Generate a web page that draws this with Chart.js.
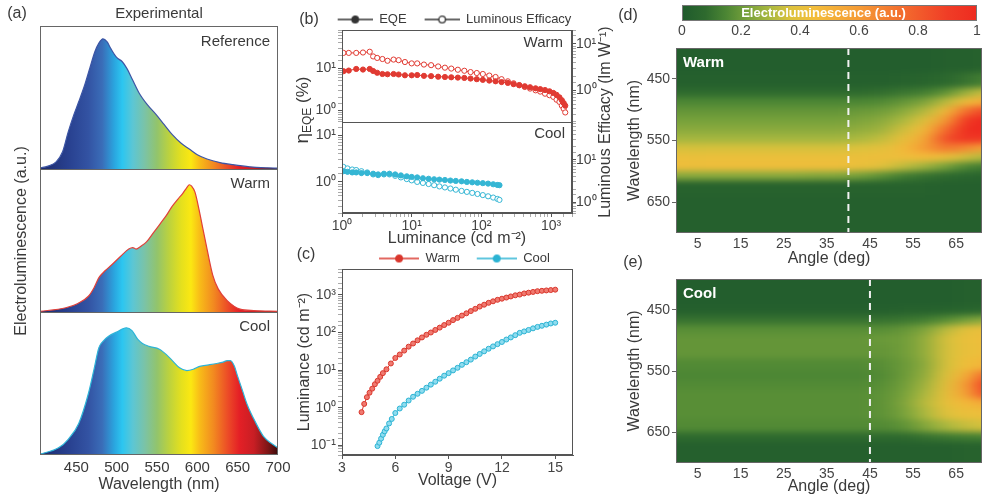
<!DOCTYPE html>
<html>
<head>
<meta charset="utf-8">
<script src="https://cdn.jsdelivr.net/npm/chart.js@4.4.1/dist/chart.umd.min.js"></script>
<style>
  html, body { margin: 0; padding: 0; background: #fff; }
  #wrap { position: relative; width: 983px; height: 497px; overflow: hidden; background: #fff; }
  canvas { position: absolute; }
</style>
</head>
<body>
<div id="wrap">
  <canvas id="cA" width="290" height="497" style="left:0;top:0"></canvas>
  <canvas id="cB" width="330" height="250" style="left:290px;top:0"></canvas>
  <canvas id="cC" width="322" height="257" style="left:290px;top:240px"></canvas>
  <canvas id="cBar" width="371" height="40" style="left:612px;top:0"></canvas>
  <canvas id="cD" width="371" height="230" style="left:612px;top:40px"></canvas>
  <canvas id="cE" width="371" height="247" style="left:612px;top:250px"></canvas>
</div>
<script>
// ---- (a) EL spectra, normalised to the height of each sub panel
const wlTicks = [450, 500, 550, 600, 650, 700];
const refWl = [403, 415, 425, 433, 440, 447, 453, 460, 467, 473, 478, 483, 488, 493, 500, 507, 513, 520, 528, 538, 549, 559, 569, 580, 590, 600, 612, 628, 644, 665, 687, 700];
const refEl = [0.005, 0.02, 0.05, 0.12, 0.26, 0.38, 0.47, 0.58, 0.71, 0.82, 0.88, 0.91, 0.89, 0.84, 0.78, 0.75, 0.70, 0.62, 0.53, 0.45, 0.38, 0.31, 0.24, 0.18, 0.14, 0.10, 0.07, 0.045, 0.03, 0.015, 0.008, 0.006];
const warmWl = [403, 437, 452, 465, 472, 478, 486, 494, 505, 515, 520, 524, 530, 537, 545, 553, 561, 569, 576, 582, 587, 590, 593, 597, 602, 607, 611, 619, 626, 637, 653, 670, 700];
const warmEl = [0.003, 0.03, 0.06, 0.11, 0.17, 0.24, 0.29, 0.33, 0.39, 0.44, 0.45, 0.44, 0.46, 0.49, 0.55, 0.61, 0.67, 0.74, 0.79, 0.83, 0.87, 0.89, 0.88, 0.84, 0.72, 0.58, 0.47, 0.26, 0.16, 0.08, 0.02, 0.01, 0.005];
const coolWl = [403, 428, 440, 453, 465, 472, 478, 484, 490, 500, 512, 519, 526, 532, 540, 553, 562, 569, 578, 587, 595, 603, 614, 624, 632, 637, 641, 646, 650, 656, 662, 672, 682, 692, 700];
const coolEl = [0.003, 0.05, 0.11, 0.22, 0.43, 0.6, 0.75, 0.8, 0.83, 0.86, 0.89, 0.87, 0.81, 0.78, 0.76, 0.74, 0.7, 0.66, 0.61, 0.59, 0.6, 0.62, 0.63, 0.64, 0.65, 0.66, 0.66, 0.62, 0.55, 0.45, 0.35, 0.23, 0.13, 0.08, 0.05];

// ---- (b) efficiency vs luminance
const bWarmL = [1.05, 1.25, 1.6, 2.0, 2.5, 2.8, 3.2, 3.8, 4.5, 5.5, 6.5, 8, 10, 12, 15, 19, 24, 30, 37, 46, 57, 70, 86, 105, 130, 160, 195, 240, 290, 350, 420, 500, 600, 700, 820, 950, 1080, 1200, 1320, 1430, 1520, 1600];
const bWarmEqe = [8.5, 8.8, 9.6, 9.3, 9.6, 8.6, 7.8, 7.3, 7.2, 7.3, 7.1, 6.8, 6.8, 6.9, 6.6, 6.5, 6.3, 6.2, 6.1, 6.0, 5.9, 5.7, 5.5, 5.3, 5.1, 4.9, 4.7, 4.5, 4.2, 3.95, 3.75, 3.55, 3.35, 3.2, 3.05, 2.85, 2.6, 2.35, 2.05, 1.75, 1.5, 1.3];
const bWarmLe = [23, 23, 23, 23.5, 24.5, 19, 17.5, 16.5, 15, 16, 15.5, 14, 13, 13, 12.2, 11.8, 11, 10.3, 9.8, 9.2, 8.7, 8.1, 7.7, 7.3, 6.7, 6.2, 5.5, 4.9, 4.4, 4.0, 3.6, 3.3, 3.0, 2.8, 2.5, 2.3, 2.1, 1.8, 1.6, 1.3, 1.1, 0.9];
const bCoolL = [1.05, 1.2, 1.4, 1.6, 1.9, 2.3, 2.8, 3.3, 4, 4.8, 5.8, 7, 8.5, 10, 12, 14.5, 17.5, 21, 25, 30, 36, 43, 52, 62, 74, 88, 105, 125, 148, 170, 182];
const bCoolEqe = [1.7, 1.65, 1.6, 1.6, 1.55, 1.55, 1.5, 1.45, 1.5, 1.5, 1.45, 1.38, 1.32, 1.28, 1.25, 1.2, 1.17, 1.14, 1.12, 1.1, 1.07, 1.05, 1.03, 1.0, 0.98, 0.96, 0.94, 0.92, 0.89, 0.86, 0.85];
const bCoolLe = [2.1, 1.95, 1.85, 1.8, 1.7, 1.6, 1.45, 1.4, 1.45, 1.45, 1.35, 1.25, 1.15, 1.08, 1.0, 0.95, 0.9, 0.85, 0.8, 0.76, 0.72, 0.68, 0.64, 0.61, 0.58, 0.55, 0.52, 0.49, 0.46, 0.43, 0.41];

// ---- (c) luminance vs voltage
const vTicks = [3, 6, 9, 12, 15];
const warmV = [4.1, 4.25, 4.4, 4.55, 4.7, 4.85, 5.0, 5.15, 5.3, 5.5, 5.75, 6.0, 6.25, 6.5, 6.75, 7.0, 7.25, 7.5, 7.75, 8.0, 8.25, 8.5, 8.75, 9.0, 9.25, 9.5, 9.75, 10.0, 10.25, 10.5, 10.75, 11.0, 11.25, 11.5, 11.75, 12.0, 12.25, 12.5, 12.75, 13.0, 13.25, 13.5, 13.75, 14.0, 14.25, 14.5, 14.75, 15.0];
const warmLum = [0.76, 1.26, 1.9, 2.5, 3.2, 4.2, 5.2, 6.6, 8.3, 10.5, 15, 21, 26, 33, 42, 51, 62, 74, 87, 100, 117, 135, 158, 182, 214, 245, 282, 324, 372, 427, 490, 550, 617, 676, 741, 794, 851, 912, 977, 1023, 1096, 1148, 1202, 1259, 1288, 1318, 1349, 1380];
const coolV = [5.0, 5.1, 5.2, 5.3, 5.4, 5.5, 5.65, 5.8, 6.0, 6.25, 6.5, 6.75, 7.0, 7.25, 7.5, 7.75, 8.0, 8.25, 8.5, 8.75, 9.0, 9.25, 9.5, 9.75, 10.0, 10.25, 10.5, 10.75, 11.0, 11.25, 11.5, 11.75, 12.0, 12.25, 12.5, 12.75, 13.0, 13.25, 13.5, 13.75, 14.0, 14.25, 14.5, 14.75, 15.0];
const coolLum = [0.095, 0.117, 0.15, 0.19, 0.234, 0.28, 0.38, 0.5, 0.72, 0.95, 1.2, 1.55, 1.95, 2.34, 2.8, 3.4, 4.1, 4.9, 5.9, 7.1, 8.3, 9.8, 11.5, 13.8, 16.2, 19, 22.9, 26.9, 31.6, 37, 42.7, 49, 56, 65, 74, 85, 98, 107, 117, 129, 141, 151, 162, 174, 182];

// ---- (d)/(e) angle resolved EL maps: one column of values per angle, one value per wavelength band
const angleTicks = [5, 15, 25, 35, 45, 55, 65];
const nmTicks = [450, 550, 650];
const barTicks = [0, 0.2, 0.4, 0.6, 0.8, 1];
const mapAngles = [2.5, 7.5, 12.5, 17.5, 22.5, 27.5, 32.5, 37.5, 42.5, 47.5, 52.5, 57.5, 62.5, 67.5, 72.5];
const warmBands = [400, 440, 465, 480, 495, 510, 525, 540, 555, 570, 585, 600, 615, 640, 700];
const warmMap = [
  [0.02, 0.03, 0.08, 0.15, 0.19, 0.22, 0.25, 0.29, 0.36, 0.42, 0.43, 0.25, 0.04, 0.03],
  [0.02, 0.03, 0.08, 0.15, 0.19, 0.22, 0.25, 0.29, 0.36, 0.42, 0.43, 0.25, 0.04, 0.03],
  [0.02, 0.03, 0.08, 0.15, 0.19, 0.22, 0.25, 0.29, 0.36, 0.42, 0.43, 0.25, 0.04, 0.03],
  [0.02, 0.03, 0.08, 0.15, 0.19, 0.22, 0.25, 0.29, 0.36, 0.42, 0.43, 0.25, 0.04, 0.03],
  [0.02, 0.03, 0.08, 0.15, 0.19, 0.22, 0.25, 0.29, 0.36, 0.42, 0.43, 0.25, 0.04, 0.03],
  [0.02, 0.03, 0.08, 0.15, 0.19, 0.22, 0.25, 0.29, 0.36, 0.42, 0.43, 0.25, 0.04, 0.03],
  [0.02, 0.03, 0.08, 0.15, 0.19, 0.22, 0.25, 0.29, 0.36, 0.42, 0.43, 0.24, 0.04, 0.03],
  [0.02, 0.03, 0.08, 0.15, 0.19, 0.22, 0.25, 0.29, 0.36, 0.42, 0.43, 0.24, 0.04, 0.03],
  [0.02, 0.03, 0.08, 0.15, 0.20, 0.23, 0.26, 0.30, 0.37, 0.42, 0.42, 0.22, 0.04, 0.03],
  [0.02, 0.03, 0.09, 0.16, 0.21, 0.25, 0.28, 0.33, 0.39, 0.43, 0.39, 0.18, 0.04, 0.03],
  [0.02, 0.04, 0.11, 0.19, 0.25, 0.30, 0.35, 0.41, 0.46, 0.43, 0.33, 0.13, 0.04, 0.03],
  [0.02, 0.05, 0.13, 0.23, 0.31, 0.38, 0.46, 0.54, 0.60, 0.46, 0.28, 0.10, 0.04, 0.03],
  [0.03, 0.07, 0.18, 0.32, 0.45, 0.60, 0.75, 0.85, 0.72, 0.42, 0.22, 0.08, 0.03, 0.03],
  [0.03, 0.10, 0.28, 0.45, 0.75, 0.95, 1.00, 0.95, 0.65, 0.35, 0.15, 0.06, 0.03, 0.03],
  [0.04, 0.14, 0.35, 0.55, 0.88, 1.00, 1.00, 0.92, 0.55, 0.30, 0.12, 0.05, 0.03, 0.03]
];
const coolBands = [400, 445, 460, 475, 490, 510, 530, 550, 565, 580, 595, 610, 630, 650, 665, 700];
const coolMap = [
  [0.02, 0.03, 0.10, 0.17, 0.19, 0.19, 0.16, 0.15, 0.16, 0.17, 0.17, 0.17, 0.16, 0.08, 0.03],
  [0.02, 0.03, 0.10, 0.17, 0.19, 0.19, 0.16, 0.15, 0.16, 0.17, 0.17, 0.17, 0.16, 0.08, 0.03],
  [0.02, 0.03, 0.10, 0.17, 0.19, 0.19, 0.16, 0.15, 0.16, 0.17, 0.17, 0.17, 0.16, 0.08, 0.03],
  [0.02, 0.03, 0.10, 0.17, 0.19, 0.19, 0.16, 0.15, 0.16, 0.17, 0.17, 0.17, 0.16, 0.08, 0.03],
  [0.02, 0.03, 0.10, 0.17, 0.19, 0.19, 0.16, 0.15, 0.16, 0.17, 0.17, 0.17, 0.16, 0.08, 0.03],
  [0.02, 0.03, 0.10, 0.17, 0.19, 0.19, 0.16, 0.15, 0.16, 0.17, 0.17, 0.17, 0.16, 0.08, 0.03],
  [0.02, 0.03, 0.10, 0.17, 0.19, 0.19, 0.16, 0.15, 0.16, 0.17, 0.17, 0.17, 0.16, 0.08, 0.03],
  [0.02, 0.03, 0.10, 0.17, 0.19, 0.19, 0.16, 0.15, 0.16, 0.17, 0.17, 0.17, 0.16, 0.08, 0.03],
  [0.02, 0.03, 0.10, 0.17, 0.19, 0.19, 0.16, 0.15, 0.16, 0.17, 0.17, 0.17, 0.16, 0.08, 0.03],
  [0.02, 0.03, 0.10, 0.17, 0.20, 0.19, 0.17, 0.16, 0.17, 0.18, 0.18, 0.18, 0.16, 0.08, 0.03],
  [0.02, 0.04, 0.11, 0.19, 0.21, 0.21, 0.20, 0.20, 0.21, 0.22, 0.23, 0.22, 0.18, 0.08, 0.03],
  [0.02, 0.04, 0.13, 0.23, 0.26, 0.26, 0.25, 0.26, 0.28, 0.30, 0.32, 0.30, 0.24, 0.10, 0.03],
  [0.02, 0.05, 0.17, 0.32, 0.36, 0.36, 0.36, 0.37, 0.39, 0.41, 0.41, 0.38, 0.30, 0.12, 0.03],
  [0.03, 0.06, 0.22, 0.40, 0.42, 0.42, 0.44, 0.52, 0.60, 0.58, 0.47, 0.42, 0.34, 0.13, 0.04],
  [0.03, 0.07, 0.26, 0.42, 0.43, 0.43, 0.50, 0.80, 0.95, 0.88, 0.55, 0.43, 0.36, 0.14, 0.04]
];
const warmCut = 40;
const coolCut = 45;

// ---- colours
const specStops = [[405, '#1c2a6c'], [440, '#28408f'], [465, '#3353a3'], [482, '#3a6db8'], [497, '#2aa5df'], [507, '#2cc6f0'], [520, '#5cc6d4'], [535, '#7bc3a6'], [550, '#92c46c'], [565, '#bcd23e'], [580, '#e4e01e'], [592, '#fbe812'], [603, '#f8bc18'], [620, '#f28a20'], [638, '#ec4b27'], [652, '#e42026'], [670, '#c81e24'], [688, '#7c1616'], [700, '#3a0b0b']];
const elStops = [[0, '#1f5a2c'], [0.08, '#2e6a2e'], [0.15, '#4c8634'], [0.22, '#76a13b'], [0.3, '#abb93f'], [0.37, '#ddc23c'], [0.45, '#f3bd3a'], [0.6, '#f59b35'], [0.75, '#f36b2e'], [0.9, '#f03d26'], [1, '#ee2b20']];
const RED = '#e03a32', CYAN = '#35b6d4';
const FONT = "'Liberation Sans', Arial, sans-serif";

Chart.defaults.font.family = FONT;
Chart.defaults.font.size = 14;
Chart.defaults.color = '#3a3a3a';

const pts = (xs, ys) => xs.map((x, i) => ({x, y: ys[i]}));
const hex = h => [1, 3, 5].map(i => parseInt(h.slice(i, i + 2), 16));
function cmap(v) {
  v = Math.max(0, Math.min(1, v));
  for (let i = 1; i < elStops.length; i++) {
    if (v <= elStops[i][0]) {
      const a = hex(elStops[i - 1][1]), b = hex(elStops[i][1]);
      const t = (v - elStops[i - 1][0]) / (elStops[i][0] - elStops[i - 1][0]);
      return 'rgb(' + a.map((x, k) => Math.round(x + (b[k] - x) * t)).join(',') + ')';
    }
  }
  return elStops[elStops.length - 1][1];
}
const SUP = {'0': '⁰', '1': '¹', '2': '²', '3': '³', '4': '⁴', '5': '⁵', '-': '⁻'};
const isDecade = v => Math.abs(Math.log10(v) - Math.round(Math.log10(v))) < 1e-6;
const decade = v => isDecade(v) ? '10' + String(Math.round(Math.log10(v))).split('').map(c => SUP[c]).join('') : '';
const tickCol = c => (c.tick && isDecade(c.tick.value)) ? '#555' : '#aaa';
const fixW = w => s => { s.width = w; s.paddingTop = 0; s.paddingBottom = 0; };
const fixH = h => s => { s.height = h; s.paddingLeft = 0; s.paddingRight = 0; };
const setTicks = arr => s => { s.ticks = arr.map(v => ({value: v})); };
const noGrid = {display: false, drawTicks: false};

// frame round the plot area, with optional dividers between stacked axes
function frame(splits, color) {
  return {
    id: 'frame',
    afterDatasetsDraw(chart) {
      const {ctx, chartArea: a} = chart;
      ctx.save();
      ctx.strokeStyle = color;
      ctx.lineWidth = 1;
      ctx.strokeRect(a.left + 0.5, a.top + 0.5, a.width - 1, a.height - 1);
      splits.forEach(id => {
        const y = Math.round(chart.scales[id].top) + 0.5;
        ctx.beginPath(); ctx.moveTo(a.left, y); ctx.lineTo(a.right, y); ctx.stroke();
      });
      ctx.restore();
    }
  };
}

// free text: panel letters, sub panel names, composite axis titles
function texts(items) {
  return {
    id: 'texts',
    afterDraw(chart) {
      const {ctx} = chart;
      items.forEach(it => {
        const x = typeof it.x === 'function' ? it.x(chart) : it.x;
        const y = typeof it.y === 'function' ? it.y(chart) : it.y;
        const parts = it.parts || [{t: it.t, size: it.size || 15, bold: it.bold}];
        const f = p => (p.bold ? 'bold ' : '') + p.size + 'px ' + FONT;
        ctx.save();
        ctx.translate(x, y);
        if (it.rot) ctx.rotate(it.rot);
        ctx.fillStyle = it.color || '#3a3a3a';
        ctx.textBaseline = 'middle';
        ctx.textAlign = 'left';
        let total = 0;
        parts.forEach(p => { ctx.font = f(p); p.w = ctx.measureText(p.t).width; total += p.w; });
        let cx = it.align === 'left' ? 0 : it.align === 'right' ? -total : -total / 2;
        parts.forEach(p => { ctx.font = f(p); ctx.fillText(p.t, cx, p.dy || 0); cx += p.w; });
        ctx.restore();
      });
    }
  };
}

// legend symbol: line with a circle marker, after a transparent lead-in
function glyph(color, filled, lead, len) {
  const c = document.createElement('canvas');
  c.width = lead + len; c.height = 10;
  const g = c.getContext('2d');
  g.strokeStyle = color; g.lineWidth = 1.3;
  g.beginPath(); g.moveTo(lead, 5); g.lineTo(lead + len, 5); g.stroke();
  g.beginPath(); g.arc(lead + len / 2, 5, 3.3, 0, Math.PI * 2);
  g.fillStyle = filled ? color : '#fff'; g.fill(); g.stroke();
  return c;
}
const legendItem = (text, img, color) => ({text, pointStyle: img, fillStyle: color, strokeStyle: color, lineWidth: 0, hidden: false, fontColor: '#3a3a3a'});

// ================= (a)
function specFill(c) {
  const chart = c.chart, a = chart.chartArea, xs = chart.scales.x;
  if (!a || !xs) return 'rgba(0,0,0,0)';
  const g = chart.ctx.createLinearGradient(a.left, 0, a.right, 0);
  specStops.forEach(([wl, col]) => {
    const t = (xs.getPixelForValue(wl) - a.left) / a.width;
    if (t >= 0 && t <= 1) g.addColorStop(t, col);
  });
  return g;
}
const spec = (label, xs, ys, axis, color) => ({
  label, data: pts(xs, ys), yAxisID: axis, borderColor: color, borderWidth: 1.2,
  backgroundColor: specFill, fill: 'origin', pointRadius: 0, cubicInterpolationMode: 'monotone'
});
const yStack = () => ({
  type: 'linear', position: 'left', stack: 'el', stackWeight: 1, min: 0, max: 1,
  afterFit: fixW(40), ticks: {display: false}, grid: noGrid, border: {display: false}
});
new Chart(document.getElementById('cA'), {
  type: 'line',
  data: {datasets: [
    spec('Reference', refWl, refEl, 'yRef', '#3c55a5'),
    spec('Warm', warmWl, warmEl, 'yWarm', '#e0403a'),
    spec('Cool', coolWl, coolEl, 'yCool', '#2db4d8')
  ]},
  options: {
    animation: false, responsive: false, devicePixelRatio: 1,
    layout: {padding: {top: 26, right: 12, left: 0, bottom: 0}},
    plugins: {legend: {display: false}, tooltip: {enabled: false}},
    scales: {
      x: {
        type: 'linear', min: 405, max: 700, afterBuildTicks: setTicks(wlTicks), afterFit: fixH(42),
        grid: noGrid, border: {display: false},
        ticks: {font: {size: 15}, padding: 4, maxRotation: 0, autoSkip: false},
        title: {display: true, text: 'Wavelength (nm)', font: {size: 16}, padding: {top: 0, bottom: 3}}
      },
      // stacked axes are laid out bottom first
      yCool: yStack(), yWarm: yStack(), yRef: yStack()
    }
  },
  plugins: [frame(['yWarm', 'yCool'], '#666'), texts([
    {t: '(a)', x: 17, y: 14, size: 16},
    {t: 'Experimental', x: 159, y: 14, size: 15},
    {t: 'Reference', x: 270, y: c => c.scales.yRef.top + 16, size: 15, align: 'right'},
    {t: 'Warm', x: 270, y: c => c.scales.yWarm.top + 15, size: 15, align: 'right'},
    {t: 'Cool', x: 270, y: c => c.scales.yCool.top + 15, size: 15, align: 'right'},
    {t: 'Electroluminescence (a.u.)', x: 22, y: 241, size: 16, rot: -Math.PI / 2}
  ])]
});

// ================= (b)
const logAxis = (extra) => Object.assign({
  type: 'logarithmic',
  ticks: {callback: decade, autoSkip: false, maxRotation: 0, font: {size: 14}, padding: 2, color: '#444'},
  grid: {drawOnChartArea: false, tickLength: 4, color: tickCol},
  border: {color: '#555'}
}, extra);
const bLine = (xs, ys, axis, color, filled) => ({
  data: pts(xs, ys), yAxisID: axis, borderColor: color, borderWidth: 1, fill: false,
  pointRadius: 2.6, pointBorderWidth: 1, pointBorderColor: color,
  pointBackgroundColor: filled ? color : '#fff'
});
const rightTicks = {callback: decade, autoSkip: false, font: {size: 14}, padding: 0, color: '#444'};
new Chart(document.getElementById('cB'), {
  type: 'line',
  data: {datasets: [
    bLine(bWarmL, bWarmEqe, 'yW', RED, true),
    bLine(bWarmL, bWarmLe, 'yW', RED, false),
    bLine(bCoolL, bCoolEqe, 'yC', CYAN, true),
    bLine(bCoolL, bCoolLe, 'yC', CYAN, false)
  ]},
  options: {
    animation: false, responsive: false, devicePixelRatio: 1,
    layout: {padding: {top: 10, left: 0, right: 16, bottom: 0}},
    plugins: {
      tooltip: {enabled: false},
      legend: {
        position: 'top', align: 'center', maxHeight: 20,
        labels: {
          usePointStyle: true, pointStyleWidth: 50, padding: 3, font: {size: 13}, color: '#3a3a3a',
          generateLabels: () => [
            legendItem('EQE', glyph('#333', true, 15, 35), '#333'),
            legendItem('Luminous Efficacy', glyph('#333', false, 15, 35), '#333')
          ]
        }
      }
    },
    scales: {
      x: logAxis({min: 1, max: 2000, afterFit: fixH(37),
        ticks: {callback: decade, autoSkip: false, maxRotation: 0, font: {size: 14}, padding: 1, color: '#444'},
        title: {display: true, text: 'Luminance (cd m⁻²)', font: {size: 16}, padding: {top: 0, bottom: 2}}}),
      // stacked axes are laid out bottom first
      yC: logAxis({position: 'left', stack: 'l', stackWeight: 1, min: 0.214, max: 20, afterFit: fixW(52)}),
      yW: logAxis({position: 'left', stack: 'l', stackWeight: 1, min: 0.55, max: 80, afterFit: fixW(52)}),
      yC2: logAxis({position: 'right', stack: 'r', stackWeight: 1, min: 0.214, max: 20, afterFit: fixW(32), ticks: rightTicks}),
      yW2: logAxis({position: 'right', stack: 'r', stackWeight: 1, min: 0.55, max: 80, afterFit: fixW(32), ticks: rightTicks})
    }
  },
  plugins: [frame(['yC'], '#555'), texts([
    {t: '(b)', x: 19, y: 20, size: 16},
    {t: 'Warm', x: 273, y: c => c.scales.yW.top + 13, size: 15, align: 'right'},
    {t: 'Cool', x: 275, y: c => c.scales.yC.top + 12, size: 15, align: 'right'},
    {parts: [{t: 'η', size: 19}, {t: 'EQE', size: 12, dy: 5}, {t: ' (%)', size: 17}], x: 13, y: 110, rot: -Math.PI / 2},
    {t: 'Luminous Efficacy (lm W⁻¹)', x: 316, y: 122, size: 16, rot: -Math.PI / 2}
  ])]
});

// ================= (c)
const cLine = (xs, ys, border, fillc) => ({
  data: pts(xs, ys), borderColor: border, borderWidth: 1, fill: false,
  pointRadius: 2.5, pointBorderWidth: 1, pointBorderColor: border, pointBackgroundColor: fillc
});
new Chart(document.getElementById('cC'), {
  type: 'line',
  data: {datasets: [
    cLine(warmV, warmLum, '#d9362c', '#f07a70'),
    cLine(coolV, coolLum, '#2bb3d3', '#8fdcef')
  ]},
  options: {
    animation: false, responsive: false, devicePixelRatio: 1,
    layout: {padding: {top: 9, left: 0, right: 39, bottom: 0}},
    plugins: {
      tooltip: {enabled: false},
      legend: {
        position: 'top', align: 'center', fullSize: false, maxHeight: 20,
        labels: {
          usePointStyle: true, pointStyleWidth: 54, padding: 3, font: {size: 13}, color: '#3a3a3a',
          generateLabels: () => [
            legendItem('Warm', glyph('#d9362c', true, 14, 40), '#d9362c'),
            legendItem('Cool', glyph('#2bb3d3', true, 14, 40), '#2bb3d3')
          ]
        }
      }
    },
    scales: {
      x: {
        type: 'linear', min: 3, max: 16, afterBuildTicks: setTicks(vTicks), afterFit: fixH(42),
        ticks: {font: {size: 14}, padding: 1, maxRotation: 0, color: '#444'},
        grid: {drawOnChartArea: false, tickLength: 4, color: '#555'}, border: {color: '#555'},
        title: {display: true, text: 'Voltage (V)', font: {size: 16}, padding: {top: 0, bottom: 7}}
      },
      y: logAxis({position: 'left', min: 0.055, max: 4900, afterFit: fixW(52),
        title: {display: true, text: 'Luminance (cd m⁻²)', font: {size: 16}, padding: {top: 5, bottom: 0}}})
    }
  },
  plugins: [frame([], '#555'), texts([{t: '(c)', x: 16, y: 15, size: 16}])]
});

// ================= colour bar
new Chart(document.getElementById('cBar'), {
  type: 'bar',
  data: {labels: ['EL'], datasets: [{
    data: [[0, 1]], borderWidth: 0, barPercentage: 1, categoryPercentage: 1,
    backgroundColor: c => {
      const a = c.chart.chartArea;
      if (!a) return '#888';
      const g = c.chart.ctx.createLinearGradient(a.left, 0, a.right, 0);
      elStops.forEach(([v, col]) => g.addColorStop(v, col));
      return g;
    }
  }]},
  options: {
    indexAxis: 'y', animation: false, responsive: false, devicePixelRatio: 1,
    layout: {padding: {left: 70, right: 6, top: 5, bottom: 0}},
    plugins: {legend: {display: false}, tooltip: {enabled: false}},
    scales: {
      x: {type: 'linear', min: 0, max: 1, afterBuildTicks: setTicks(barTicks), afterFit: fixH(19),
        ticks: {font: {size: 14}, padding: 2, maxRotation: 0, autoSkip: false, color: '#444', callback: v => String(+v.toFixed(1))},
        grid: noGrid, border: {display: false}},
      y: {display: false}
    }
  },
  plugins: [frame([], '#777'), texts([
    {t: '(d)', x: 16, y: 16, size: 16},
    {t: 'Electroluminescence (a.u.)', x: c => (c.chartArea.left + c.chartArea.right) / 2 - 6, y: 13, size: 13, bold: true, color: '#fff'}
  ])]
});

// ================= (d) / (e) heat maps
function heatSets(bands, grid, cut) {
  const sets = mapAngles.map((ang, j) => ({
    type: 'bar',
    data: bands.slice(0, -1).map((lo, i) => ({x: ang, y: [lo, bands[i + 1]]})),
    backgroundColor: c => cmap(grid[j][c.dataIndex]),
    borderWidth: 0, grouped: false, barPercentage: 1, categoryPercentage: 1
  }));
  sets.push({
    type: 'line', data: [{x: cut, y: bands[0]}, {x: cut, y: bands[bands.length - 1]}],
    borderColor: '#f2f2f2', borderWidth: 2, borderDash: [7, 5], pointRadius: 0, order: -1
  });
  return sets;
}
// smooth the coarse cells before the dashed line is drawn (wider along the angle axis)
function smoothCells(sig) {
  return {
    id: 'smooth',
    beforeDatasetsDraw(chart) {
      const {ctx, chartArea: a} = chart;
      ctx.save(); ctx.fillStyle = cmap(0); ctx.fillRect(a.left, a.top, a.width, a.height); ctx.restore();
    },
    beforeDatasetDraw(chart, args) {
      if (args.meta.type !== 'line') return;
      const {ctx, chartArea: a, canvas} = chart;
      const r = chart.currentDevicePixelRatio || 1;
      const sx = Math.round(a.left * r), sy = Math.round(a.top * r);
      const w = Math.round(a.width * r), h = Math.round(a.height * r);
      const p = 40, W = w + 2 * p, H = h + 2 * p;
      const off = document.createElement('canvas'); off.width = W; off.height = H;
      const o = off.getContext('2d');
      o.drawImage(canvas, sx, sy, w, h, p, p, w, h);
      o.drawImage(canvas, sx, sy, 1, h, 0, p, p, h);
      o.drawImage(canvas, sx + w - 1, sy, 1, h, p + w, p, p, h);
      o.drawImage(off, 0, p, W, 1, 0, 0, W, p);
      o.drawImage(off, 0, p + h - 1, W, 1, 0, p + h, W, p);
      const k = 3;
      const small = document.createElement('canvas'); small.width = Math.ceil(W / k); small.height = H;
      const sc = small.getContext('2d');
      sc.filter = 'blur(' + sig + 'px)';
      sc.drawImage(off, 0, 0, W, H, 0, 0, small.width, H);
      ctx.save();
      ctx.setTransform(1, 0, 0, 1, 0, 0);
      ctx.beginPath(); ctx.rect(sx, sy, w, h); ctx.clip();
      ctx.drawImage(small, 0, 0, small.width, H, sx - p, sy - p, W, H);
      ctx.restore();
    }
  };
}
function heatChart(id, bands, grid, cut, name, pad, xh, titleBottom, extraTexts) {
  return new Chart(document.getElementById(id), {
    type: 'bar',
    data: {datasets: heatSets(bands, grid, cut)},
    options: {
      animation: false, responsive: false, devicePixelRatio: 1,
      layout: {padding: pad},
      plugins: {legend: {display: false}, tooltip: {enabled: false}},
      scales: {
        x: {
          type: 'linear', min: 0, max: 71, offset: false, afterBuildTicks: setTicks(angleTicks), afterFit: fixH(xh),
          ticks: {font: {size: 14}, padding: 3, maxRotation: 0, autoSkip: false, color: '#444'},
          grid: noGrid, border: {display: false},
          title: {display: true, text: 'Angle (deg)', font: {size: 16}, padding: {top: 0, bottom: titleBottom}}
        },
        y: {
          type: 'linear', min: 400, max: 700, reverse: true, afterBuildTicks: setTicks(nmTicks), afterFit: fixW(64 - pad.left),
          ticks: {font: {size: 14}, padding: 2, color: '#444'},
          grid: {drawOnChartArea: false, tickLength: 4, color: '#666'}, border: {display: false},
          title: {display: true, text: 'Wavelength (nm)', font: {size: 16}, padding: {top: 13 - pad.left, bottom: 0}}
        }
      }
    },
    plugins: [smoothCells(3), frame([], '#666'), texts([
      {t: name, x: c => c.chartArea.left + 7, y: c => c.chartArea.top + 15, size: 15, bold: true, color: '#fff', align: 'left'}
    ].concat(extraTexts))]
  });
}
heatChart('cD', warmBands, warmMap, warmCut, 'Warm', {left: 0, right: 1, top: 8, bottom: 0}, 37, 2, []);
heatChart('cE', coolBands, coolMap, coolCut, 'Cool', {left: 2, right: 1, top: 29, bottom: 0}, 34, 1, [{t: '(e)', x: 21, y: 13, size: 16}]);
</script>
</body>
</html>
